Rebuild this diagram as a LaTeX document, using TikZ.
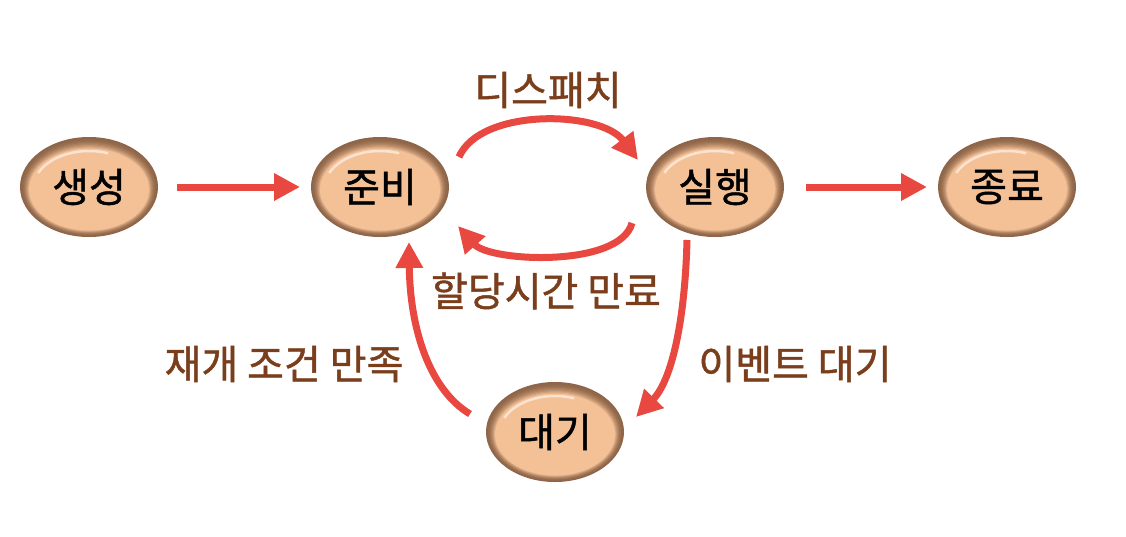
\documentclass[tikz,border=0pt]{standalone}
\usepackage{fontspec}
\newfontfamily\cjk[FakeBold=1.2]{Noto Sans CJK KR}
\usetikzlibrary{arrows.meta,shapes.geometric}
\definecolor{arr}{HTML}{E8483F}
\definecolor{lab}{HTML}{7A3E1C}
\definecolor{peach}{HTML}{F4C197}
\definecolor{rim}{HTML}{8E6548}
\tikzset{
  state/.style={ellipse, minimum width=138pt, minimum height=100pt, inner sep=0pt,
     font=\cjk\fontsize{40}{44}\selectfont, text=black},
  lbl/.style={font=\cjk\fontsize{40}{44}\selectfont, text=lab, inner sep=0pt},
  flow/.style={draw=arr, line width=7pt, -{Triangle[length=26pt,width=26pt]}}
}
\newcommand{\statebg}[1]{%
  \foreach \i in {0,...,10} {
    \pgfmathsetmacro{\mix}{min(100,\i*\i*1.0)}
    \fill[peach!\mix!rim] ([yshift=-\i*0.25pt]#1) ellipse ({69-\i*0.9} and {50-\i*0.9});
  }
  \draw[white, opacity=0.55, line width=2.5pt] ([yshift=-2pt]#1) ++(155:56pt and 38pt) arc (155:70:56pt and 38pt);
}
\begin{document}
\begin{tikzpicture}[x=1pt,y=-1pt]
\useasboundingbox (0,0) rectangle (1126,536);
\coordinate (c1) at (89,187);
\coordinate (c2) at (380,187);
\coordinate (c3) at (715,187);
\coordinate (c4) at (1007,187);
\coordinate (c5) at (555,432);
\foreach \n in {c1,c2,c3,c4,c5} {\statebg{\n}}
\node[state] (s1) at (c1) {생성};
\node[state] (s2) at (c2) {준비};
\node[state] (s3) at (c3) {실행};
\node[state] (s4) at (c4) {종료};
\node[state] (s5) at (c5) {대기};

\coordinate (a1) at (177,187); \coordinate (b1) at (300,187);
\coordinate (a2) at (806,187); \coordinate (b2) at (927,187);
\draw[flow] (a1) -- (b1);
\draw[flow] (a2) -- (b2);
\coordinate (d1) at (459,157); \coordinate (d2) at (638,160);
\draw[flow] (d1) .. controls (480,108) and (600,110) .. (d2);
\coordinate (t1) at (632,223); \coordinate (t2) at (458,226);
\draw[flow] (t1) .. controls (620,268) and (490,262) .. (t2);
\coordinate (e1) at (687,240); \coordinate (e2) at (636,417);
\draw[flow] (e1) .. controls (685,320) and (672,380) .. (e2);
\coordinate (r1) at (470,414); \coordinate (r2) at (409,242);
\draw[flow] (r1) .. controls (430,390) and (410,330) .. (r2);

\node[lbl] (L1) at (548,90) {디스패치};
\node[lbl] (L2) at (546,291) {할당시간 만료};
\node[lbl] (L3) at (284,364) {재개 조건 만족};
\node[lbl] (L4) at (795,364) {이벤트 대기};
\end{tikzpicture}
\end{document}
